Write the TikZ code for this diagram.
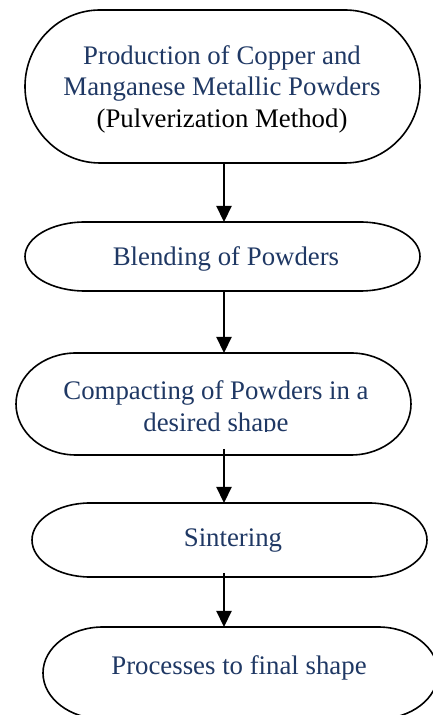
\documentclass[tikz,border=0pt]{standalone}
\usepackage{fontspec}
\setmainfont{Liberation Serif}
\usetikzlibrary{arrows.meta}
\definecolor{navy}{RGB}{31,56,100}
\newcommand{\stadiumpath}[3]{% name, rx, half height
  \draw[boxline] ([xshift=#2pt]#1.north west) -- ([xshift=-#2pt]#1.north east)
    arc[start angle=90, end angle=-90, x radius=#2pt, y radius=#3pt]
    -- ([xshift=#2pt]#1.south west)
    arc[start angle=270, end angle=90, x radius=#2pt, y radius=#3pt] -- cycle;}
\begin{document}
\begin{tikzpicture}[x=1pt,y=1pt,
  box/.style={inner sep=0pt, outer sep=0pt, minimum width=395pt},
  boxline/.style={line width=1.6pt, black},
  lbl/.style={text=navy, align=center, inner sep=0pt, font=\fontsize{26.8}{31.5}\selectfont},
  arr/.style={line width=2.2pt, -{Triangle[width=15pt,length=16pt]}}]
\useasboundingbox (0,0) rectangle (433,715);
\fill[white] (0,0) rectangle (433,715);
\begin{scope}
\clip (0,0) rectangle (433,715);
% boxes
\node[box, minimum height=153pt] (n1) at (222.5,628.5) {};
\node[box, minimum height=69pt]  (n2) at (222.5,458.5) {};
\node[box, minimum height=102pt] (n3) at (213.5,311) {};
\node[box, minimum height=74pt]  (n4) at (229.5,175) {};
\node[box, minimum height=92pt]  (n5) at (240.5,42) {};
\stadiumpath{n1}{75}{76.5}
\stadiumpath{n2}{60}{34.5}
\stadiumpath{n3}{60}{51}
\stadiumpath{n4}{58}{37}
\stadiumpath{n5}{60}{46}
% texts
\node[lbl] (t1) at (222,626) {Production of Copper and\\Manganese Metallic Powders\\\textcolor{black}{(Pulverization Method)}};
\node[lbl] (t2) at (226,456) {Blending of Powders};
\begin{scope}
\clip (0,283) rectangle (433,400);
\node[lbl] (t3) at (216,306) {Compacting of Powders in a\\desired shape};
\end{scope}
\node[lbl] (t4) at (233,174) {Sintering};
\node[lbl] (t5) at (239,47) {Processes to final shape};
\end{scope}
% connectors
\coordinate (ax) at (224,0);
\draw[arr] (n1.south -| ax) -- (n2.north -| ax);
\draw[arr] (n2.south -| ax) -- (n3.north -| ax);
\draw[arr, shorten <=-6pt] (n3.south -| ax) -- (n4.north -| ax);
\draw[arr, shorten <=-4pt] (n4.south -| ax) -- (n5.north -| ax);
\end{tikzpicture}
\end{document}
